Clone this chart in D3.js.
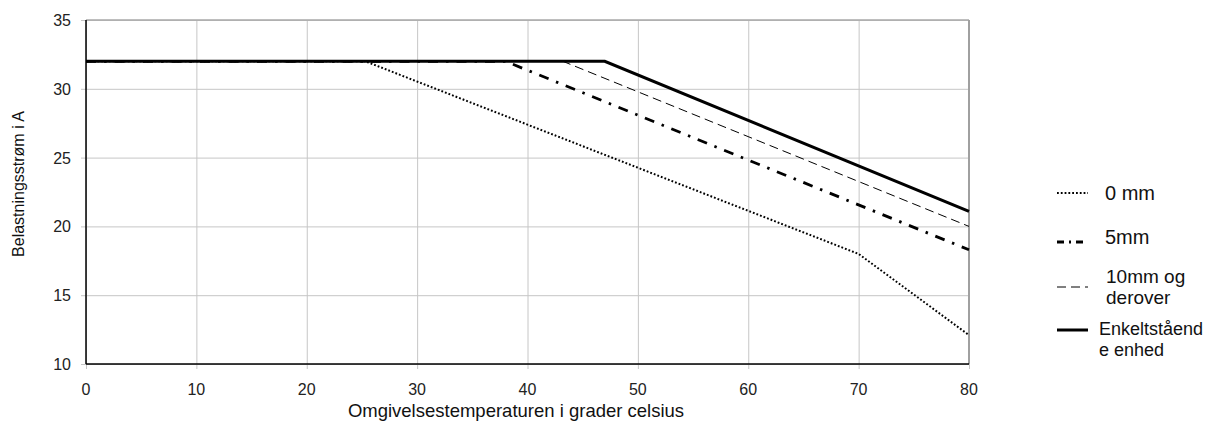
<!DOCTYPE html>
<html>
<head>
<meta charset="utf-8">
<script src="https://cdn.jsdelivr.net/npm/d3@7"></script>
<style>
  body { margin: 0; background: #fff; }
  svg { font-family: "Liberation Sans", Arial, sans-serif; }
</style>
</head>
<body>
<div id="chart"></div>
<script>
// series data: [temperature, current]
const mm0 = [[0, 32], [25.3, 32], [70, 18], [80, 12.1]];
const mm5 = [[0, 32], [38, 32], [80, 18.3]];
const mm10 = [[0, 32], [43.2, 32], [80, 20]];
const single = [[0, 32], [47, 32], [80, 21.1]];

const xTicks = [0, 10, 20, 30, 40, 50, 60, 70, 80];
const yTicks = [10, 15, 20, 25, 30, 35];

const seriesNames = ["0 mm", "5mm", "10mm og|derover", "Enkeltståend|e enhed"];

const width = 1219, height = 423;
const margin = {top: 20, right: 250, bottom: 59, left: 86};

const svg = d3.select("#chart").append("svg")
  .attr("width", width)
  .attr("height", height);

const x = d3.scaleLinear().domain([0, 80]).range([margin.left, 969]);
const y = d3.scaleLinear().domain([10, 35]).range([364, margin.top]);

// grid
svg.append("g")
  .attr("transform", `translate(0,${y(10)})`)
  .call(d3.axisBottom(x).tickValues(xTicks).tickSize(-(y(10) - y(35))).tickFormat(""))
  .call(g => g.select(".domain").remove())
  .call(g => g.selectAll("line").attr("stroke", "#c6c6c6"));
svg.append("g")
  .attr("transform", `translate(0,${y(10)})`)
  .call(d3.axisBottom(x).tickValues(xTicks).tickSize(5).tickFormat(""))
  .call(g => g.select(".domain").remove())
  .call(g => g.selectAll("line").attr("stroke", "#c6c6c6"));
svg.append("g")
  .attr("transform", `translate(${x(0)},0)`)
  .call(d3.axisLeft(y).tickValues(yTicks).tickSize(-(x(80) - x(0))).tickFormat(""))
  .call(g => g.select(".domain").remove())
  .call(g => g.selectAll("line").attr("stroke", "#c6c6c6"));
svg.append("g")
  .attr("transform", `translate(${x(0)},0)`)
  .call(d3.axisLeft(y).tickValues(yTicks).tickSize(5).tickFormat(""))
  .call(g => g.select(".domain").remove())
  .call(g => g.selectAll("line").attr("stroke", "#c6c6c6"));

// top + right border
svg.append("line")
  .attr("x1", x(0)).attr("x2", x(80))
  .attr("y1", y(35)).attr("y2", y(35))
  .attr("stroke", "#a8a8a8").attr("stroke-width", 1.5);
svg.append("line")
  .attr("x1", x(80)).attr("x2", x(80))
  .attr("y1", y(35)).attr("y2", y(10))
  .attr("stroke", "#a0a0a0").attr("stroke-width", 2);

// tick labels
svg.append("g")
  .selectAll("text")
  .data(xTicks)
  .join("text")
  .attr("x", d => x(d))
  .attr("y", 395)
  .attr("text-anchor", "middle")
  .attr("font-size", 16)
  .attr("fill", "#222")
  .text(d => d);
svg.append("g")
  .selectAll("text")
  .data(yTicks)
  .join("text")
  .attr("x", 71)
  .attr("y", d => y(d) + 6)
  .attr("text-anchor", "end")
  .attr("font-size", 16)
  .attr("fill", "#222")
  .text(d => d);

// axes lines
svg.append("line")
  .attr("x1", x(0)).attr("x2", x(0))
  .attr("y1", y(35)).attr("y2", y(10))
  .attr("stroke", "#000").attr("stroke-width", 1.5);
svg.append("line")
  .attr("x1", x(0)).attr("x2", x(80))
  .attr("y1", y(10)).attr("y2", y(10))
  .attr("stroke", "#000").attr("stroke-width", 1.5);

// axis titles
svg.append("text")
  .attr("x", 516)
  .attr("y", 417)
  .attr("text-anchor", "middle")
  .attr("font-size", 18.5)
  .attr("fill", "#111")
  .text("Omgivelsestemperaturen i grader celsius");
svg.append("text")
  .attr("transform", `translate(24,184) rotate(-90)`)
  .attr("text-anchor", "middle")
  .attr("font-size", 16)
  .attr("fill", "#111")
  .text("Belastningsstrøm i A");

const styles = [
  {data: mm0, width: 2, dash: "1.8,2"},
  {data: mm5, width: 2.8, dash: "10,8,2.5,8"},
  {data: mm10, width: 1, dash: "9,5"},
  {data: single, width: 3, dash: null}
];

const line = d3.line().x(d => x(d[0])).y(d => y(d[1]));

svg.append("g")
  .selectAll("path")
  .data(styles)
  .join("path")
  .attr("d", d => line(d.data))
  .attr("fill", "none")
  .attr("stroke", "#000")
  .attr("stroke-width", d => d.width)
  .attr("stroke-dasharray", d => d.dash)
  .attr("stroke-linejoin", "miter");

// legend
const legendRows = [
  {ly: 193, tx: 1105, ty: [200], size: 20},
  {ly: 242, tx: 1105, ty: [244], size: 20},
  {ly: 287, tx: 1106, ty: [283, 304], size: 19},
  {ly: 330, tx: 1099, ty: [335, 356], size: 18}
];
const lg = svg.append("g");
styles.forEach((s, i) => {
  const r = legendRows[i];
  lg.append("line")
    .attr("x1", 1057).attr("x2", 1088)
    .attr("y1", r.ly).attr("y2", r.ly)
    .attr("stroke", "#000")
    .attr("stroke-width", s.width)
    .attr("stroke-dasharray", i === 1 ? "7,5,2,5" : s.dash);
  seriesNames[i].split("|").forEach((p, j) => {
    lg.append("text")
      .attr("x", r.tx)
      .attr("y", r.ty[j])
      .attr("font-size", r.size)
      .attr("fill", "#111")
      .text(p);
  });
});
</script>
</body>
</html>
